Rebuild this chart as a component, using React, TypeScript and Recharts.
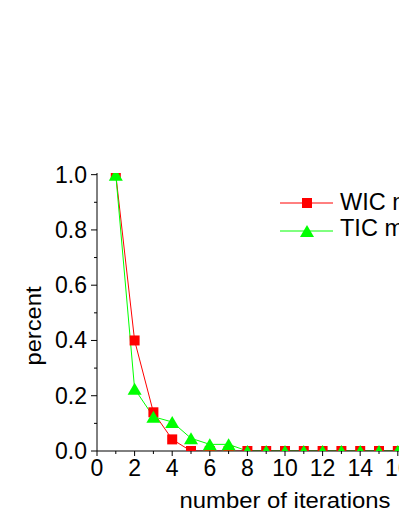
import React from 'react';
import { LineChart, Line, XAxis, YAxis, Legend } from 'recharts';

const iterations = [1, 2, 3, 4, 5, 6, 7, 8, 9, 10, 11, 12, 13, 14, 15, 16, 17, 18, 19, 20];
const wicValues = [1.0, 0.4, 0.14, 0.042, 0, 0, 0, 0, 0, 0, 0, 0, 0, 0, 0, 0, 0, 0, 0, 0];
const ticValues = [1.0, 0.225, 0.124, 0.105, 0.046, 0.024, 0.024, 0, 0, 0, 0, 0, 0, 0, 0, 0, 0, 0, 0, 0];
const xTicks = [0, 1, 2, 3, 4, 5, 6, 7, 8, 9, 10, 11, 12, 13, 14, 15, 16, 17, 18, 19, 20];
const yTicks = [0, 0.1, 0.2, 0.3, 0.4, 0.5, 0.6, 0.7, 0.8, 0.9, 1.0];
const seriesNames = ['WIC method', 'TIC method'];

const data = iterations.map((n, i) => ({ n, wic: wicValues[i], tic: ticValues[i] }));

const FONT = '"Liberation Sans", Arial, Helvetica, sans-serif';
const RED = '#ff0000';
const GREEN = '#00ff00';

function BottomTick(props: any) {
  const { x, y, payload } = props;
  const major = payload.value % 2 === 0;
  return (
    <g>
      <line x1={x} x2={x} y1={y} y2={y + (major ? 5 : 3)} stroke="#000" />
      {major && (
        <text x={x} y={y + 25} textAnchor="middle" fontSize={23} fontFamily={FONT} fill="#000">
          {payload.value}
        </text>
      )}
    </g>
  );
}

function TopTick(props: any) {
  const { x, y, payload } = props;
  const major = payload.value % 2 === 0;
  return <line x1={x} x2={x} y1={y} y2={y + (major ? 5 : 3)} stroke="#000" />;
}

function LeftTick(props: any) {
  const { x, y, payload } = props;
  const major = Math.round(payload.value * 10) % 2 === 0;
  return (
    <g>
      <line x1={x - (major ? 6 : 3)} x2={x} y1={y} y2={y} stroke="#000" />
      {major && (
        <text x={x - 10} y={y + 8} textAnchor="end" fontSize={23} fontFamily={FONT} fill="#000">
          {payload.value.toFixed(1)}
        </text>
      )}
    </g>
  );
}

function XTitle(props: any) {
  const vb = props.viewBox || { x: 97, y: 451, width: 376 };
  return (
    <text
      x={vb.x + vb.width / 2}
      y={vb.y + 57}
      textAnchor="middle"
      fontSize={22}
      fontFamily={FONT}
      textLength={211}
      lengthAdjust="spacingAndGlyphs"
      fill="#000"
    >
      number of iterations
    </text>
  );
}

function YTitle(props: any) {
  const vb = props.viewBox || { x: 0, y: 173, width: 97, height: 278 };
  const cx = 41;
  const cy = vb.y + vb.height / 2 + 14;
  return (
    <text
      x={cx}
      y={cy}
      transform={`rotate(-90 ${cx} ${cy})`}
      textAnchor="middle"
      fontSize={22}
      fontFamily={FONT}
      textLength={79}
      lengthAdjust="spacingAndGlyphs"
      fill="#000"
    >
      percent
    </text>
  );
}

const renderSquare = (p: any) => (
  <rect key={p.key} x={p.cx - 5} y={p.cy - 5} width={10} height={10} fill={RED} />
);

const renderTriangle = (p: any) => (
  <polygon
    key={p.key}
    points={`${p.cx},${p.cy - 6} ${p.cx - 7},${p.cy + 6} ${p.cx + 7},${p.cy + 6}`}
    fill={GREEN}
  />
);

function LegendBox() {
  return (
    <svg width={200} height={60} style={{ overflow: 'visible', display: 'block' }}>
      <line x1={0} x2={53} y1={14} y2={14} stroke={RED} />
      <rect x={22} y={9} width={10} height={10} fill={RED} />
      <text x={60} y={21} fontSize={23.5} fontFamily={FONT} fill="#000">
        {seriesNames[0]}
      </text>
      <line x1={0} x2={53} y1={42} y2={42} stroke={GREEN} />
      <polygon points="27,36 20,48 34,48" fill={GREEN} />
      <text x={60} y={47} fontSize={23.5} fontFamily={FONT} fill="#000">
        {seriesNames[1]}
      </text>
    </svg>
  );
}

export default function App() {
  return (
    <div
      style={{
        position: 'absolute',
        left: 0,
        top: 0,
        width: 399,
        height: 516,
        overflow: 'hidden',
        background: '#fff',
      }}
    >
      <LineChart width={493} height={516} data={data} margin={{ top: 173, right: 20, bottom: 15, left: 0 }}>
        <XAxis
          dataKey="n"
          type="number"
          domain={[0, 20]}
          ticks={xTicks}
          interval={0}
          tickSize={0}
          tickMargin={0}
          tickLine={false}
          axisLine={{ stroke: '#000' }}
          height={50}
          tick={(p: any) => <BottomTick {...p} />}
          label={<XTitle />}
        />
        <XAxis
          xAxisId="top"
          orientation="top"
          type="number"
          domain={[0, 20]}
          ticks={xTicks}
          interval={0}
          tickSize={0}
          tickMargin={0}
          tickLine={false}
          axisLine={{ stroke: '#000' }}
          height={0}
          tick={(p: any) => <TopTick {...p} />}
        />
        <YAxis
          type="number"
          domain={[0, 1.006]}
          ticks={yTicks}
          interval={0}
          allowDataOverflow
          width={97}
          tickSize={0}
          tickMargin={0}
          tickLine={false}
          axisLine={{ stroke: '#000' }}
          tick={(p: any) => <LeftTick {...p} />}
          label={<YTitle />}
        />
        <Legend
          layout="horizontal"
          verticalAlign="middle"
          align="center"
          content={() => <LegendBox />}
          wrapperStyle={{ position: 'absolute', left: 280, top: 189, width: 200, height: 60 }}
        />
        <Line
          type="linear"
          dataKey="wic"
          stroke={RED}
          strokeWidth={1}
          dot={renderSquare}
          activeDot={false}
          isAnimationActive={false}
        />
        <Line
          type="linear"
          dataKey="tic"
          stroke={GREEN}
          strokeWidth={1}
          dot={renderTriangle}
          activeDot={false}
          isAnimationActive={false}
        />
      </LineChart>
    </div>
  );
}
